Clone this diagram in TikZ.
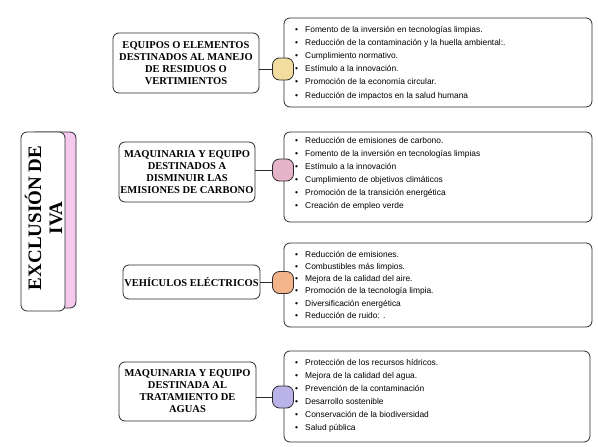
\documentclass[tikz,border=0pt]{standalone}
\usepackage{fontspec}
\setmainfont{Liberation Serif}
\setsansfont{Liberation Sans}
\definecolor{lineC}{HTML}{2B2B2B}
\definecolor{titlePink}{HTML}{F5C8EE}
\definecolor{kYellow}{HTML}{F2DC9E}
\definecolor{kPink}{HTML}{E6B4C8}
\definecolor{kPeach}{HTML}{F4B48A}
\definecolor{kLav}{HTML}{B9B3EA}
\begin{document}
\begin{tikzpicture}[x=1pt,y=-1pt,
  box/.style={draw=lineC, line width=0.8pt, rounded corners=6pt, inner sep=0pt},
  catbox/.style={box, fill=white, align=center, font=\bfseries\fontsize{10.5}{12}\selectfont},
  listbox/.style={box, fill=white, minimum width=308pt},
  knot/.style={draw=lineC, line width=0.8pt, rounded corners=7pt, minimum width=21pt, minimum height=22pt, inner sep=0pt},
  item/.style={anchor=base west, inner sep=0pt, font=\sffamily\fontsize{8.4}{10}\selectfont},
  link/.style={draw=lineC, line width=0.8pt}]
\useasboundingbox (0,0) rectangle (598,447);

% title
\node[box, fill=titlePink, minimum width=46pt, minimum height=176pt] (tback) at (53,220) {};
\node[box, fill=white, minimum width=44pt, minimum height=179pt] (tfront) at (43,221.5) {};
\node[rotate=90, align=center, inner sep=0pt, font=\bfseries\fontsize{19}{21}\selectfont] (title) at (43.5,218) {EXCLUSIÓN DE\\IVA};

% category boxes
\node[catbox, minimum width=146pt, minimum height=60pt] (c1) at (186,63) {EQUIPOS O ELEMENTOS\\DESTINADOS AL MANEJO\\DE RESIDUOS O\\VERTIMIENTOS};
\node[catbox, minimum width=136pt, minimum height=60pt] (c2) at (187,172) {MAQUINARIA Y EQUIPO\\DESTINADOS A\\DISMINUIR LAS\\EMISIONES DE CARBONO};
\node[catbox, minimum width=137pt, minimum height=34pt] (c3) at (191.5,282) {VEHÍCULOS ELÉCTRICOS};
\node[catbox, minimum width=137pt, minimum height=59pt] (c4) at (187.5,391.5) {MAQUINARIA Y EQUIPO\\DESTINADA AL\\TRATAMIENTO DE\\AGUAS};

% list boxes
\node[listbox, minimum height=89pt] (r1) at (438,62.5) {};
\node[listbox, minimum height=90pt] (r2) at (438,177) {};
\node[listbox, minimum height=84pt] (r3) at (438,285) {};
\node[listbox, minimum width=306pt, minimum height=91pt] (r4) at (437,396.5) {};

% knots
\node[knot, fill=kYellow] (k1) at (283,69) {};
\node[knot, fill=kPink] (k2) at (283,170) {};
\node[knot, fill=kPeach] (k3) at (283,282.5) {};
\node[knot, fill=kLav] (k4) at (283,397) {};

% connectors
\draw[link] (k1.west) -- (k1.west -| c1.east);
\draw[link] (k2.west) -- (k2.west -| c2.east);
\draw[link] (k3.west) -- (k3.west -| c3.east);
\draw[link] (k4.west) -- (k4.west -| c4.east);

% items
\foreach \t [count=\i] in {Fomento de la inversión en tecnologías limpias.,
  Reducción de la contaminación y la huella ambiental:.,
  Cumplimiento normativo.,
  Estímulo a la innovación.,
  Promoción de la economía circular.,
  Reducción de impactos en la salud humana}
  \node[item] (a\i) at (295,{32+13.2*(\i-1)}) {\makebox[10pt][l]{\textbullet}\t};

\foreach \t [count=\i] in {Reducción de emisiones de carbono.,
  Fomento de la inversión en tecnologías limpias,
  Estímulo a la innovación,
  Cumplimiento de objetivos climáticos,
  Promoción de la transición energética,
  Creación de empleo verde}
  \node[item] (b\i) at (295,{143+13*(\i-1)}) {\makebox[10pt][l]{\textbullet}\t};

\foreach \t [count=\i] in {Reducción de emisiones.,
  Combustibles más limpios.,
  Mejora de la calidad del aire.,
  Promoción de la tecnología limpia.,
  Diversificación energética,
  Reducción de ruido: .}
  \node[item] (d\i) at (295,{257+12.3*(\i-1)}) {\makebox[10pt][l]{\textbullet}\t};

\foreach \t [count=\i] in {Protección de los recursos hídricos.,
  Mejora de la calidad del agua.,
  Prevención de la contaminación,
  Desarrollo sostenible,
  Conservación de la biodiversidad,
  Salud pública}
  \node[item] (e\i) at (295,{365+13*(\i-1)}) {\makebox[10pt][l]{\textbullet}\t};
\end{tikzpicture}
\end{document}
